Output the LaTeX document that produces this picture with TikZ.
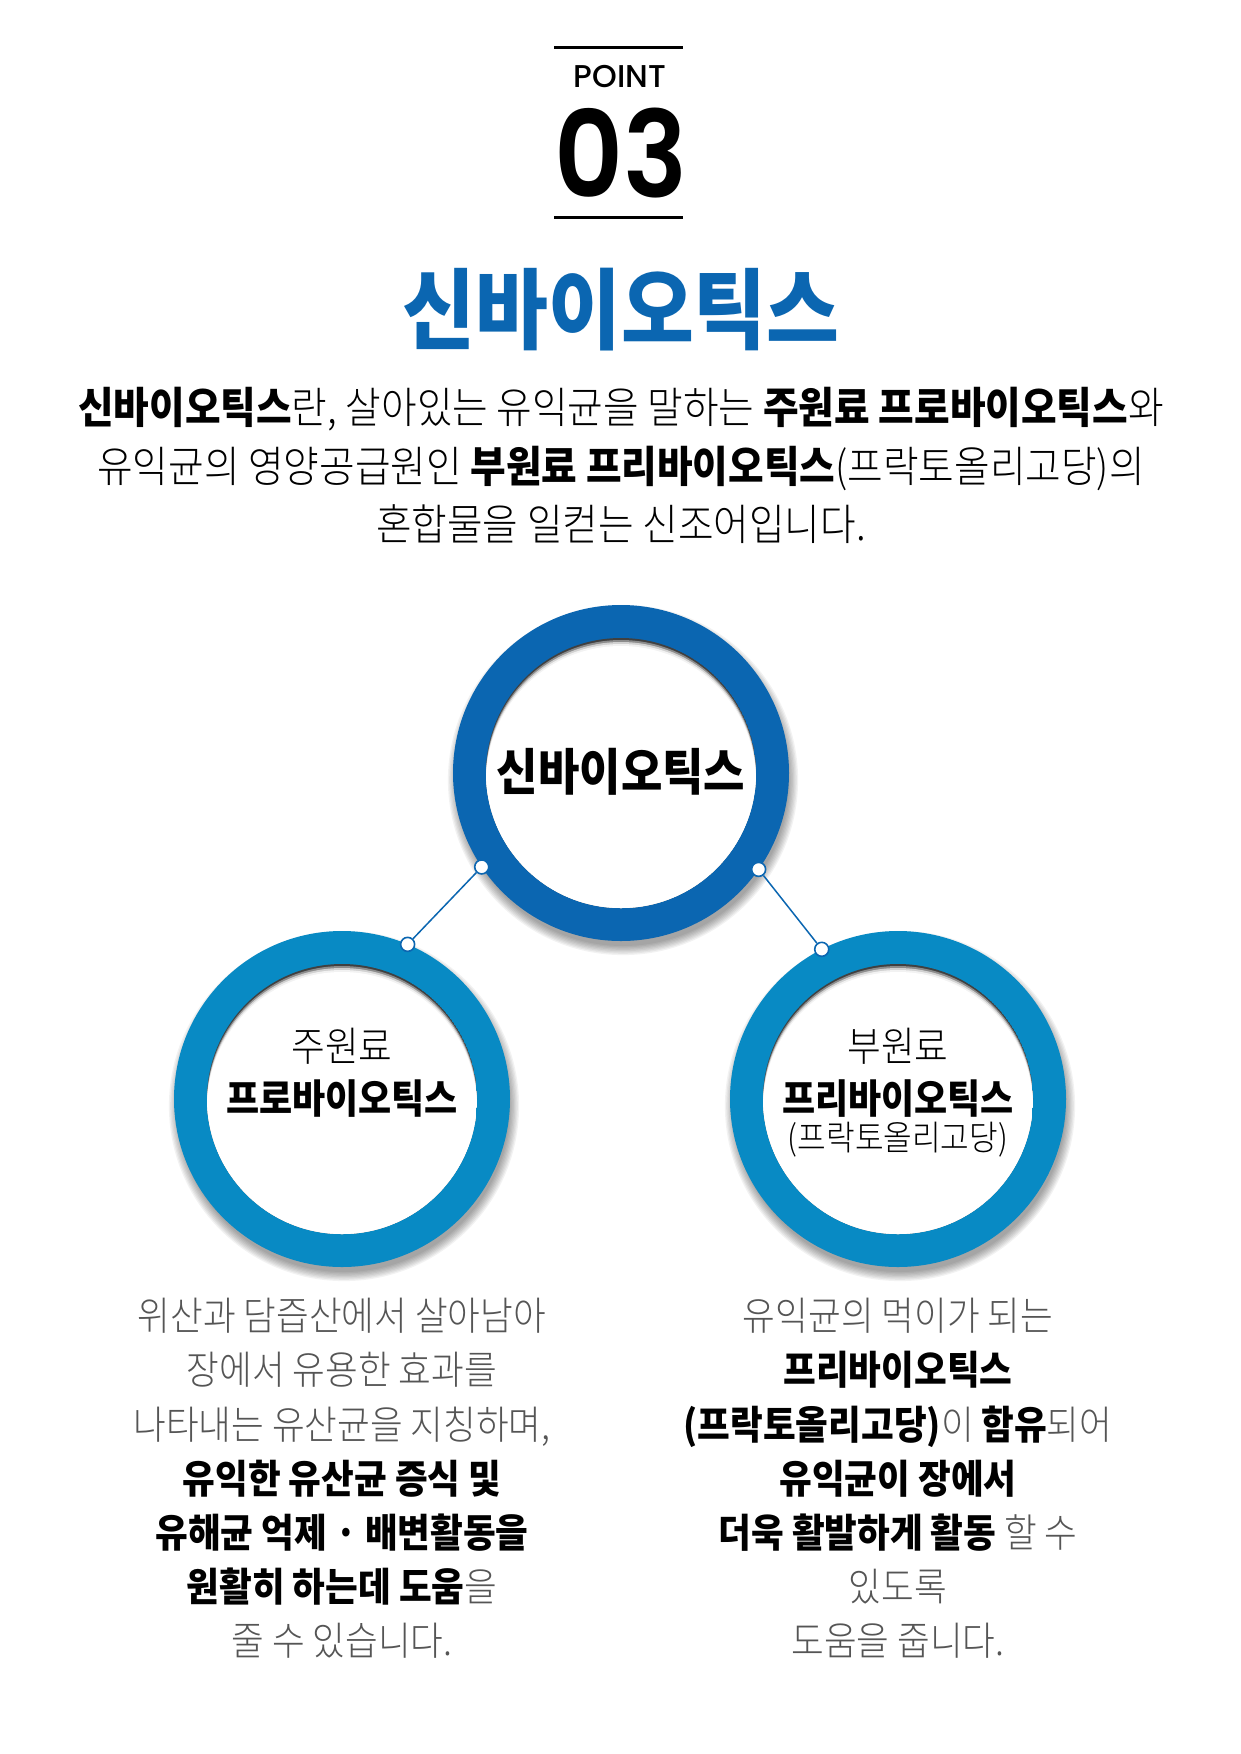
\documentclass[tikz,border=0pt]{standalone}
\usepackage{fontspec}
\newfontfamily\kr{Noto Sans CJK KR}[FakeStretch=0.9]
\IfFontExistsTF{Noto Sans CJK KR Light}
 {\newfontfamily\krl{Noto Sans CJK KR Light}[FakeStretch=0.9]}
 {\newfontfamily\krl{Noto Sans CJK KR}[FakeStretch=0.9]}
\IfFontExistsTF{Poppins Medium}
 {\newfontfamily\pop{Poppins Medium}}
 {\newfontfamily\pop{Poppins}}
\IfFontExistsTF{Poppins SemiBold}
 {\newfontfamily\popn{Poppins SemiBold}[FakeStretch=0.89]}
 {\newfontfamily\popn{Poppins}[FakeStretch=0.89,FakeBold=1.5]}
\definecolor{titleblue}{RGB}{11,102,177}
\definecolor{topblue}{RGB}{11,102,177}
\definecolor{sideblue}{RGB}{8,138,196}
\definecolor{txtgray}{RGB}{85,85,85}
\newcommand\bk[1]{{\kr\bfseries\color{black}#1}}
\newcommand\drawring[3]{%
 \begin{scope}[shift={(#1,#2)}]
  \foreach \k in {0,...,7}{\fill[black,opacity=0.05] (2,7) circle[radius=166pt+\k*1.3pt];}
  \fill[#3] (0,0) circle[radius=168pt];
  \begin{scope}
   \clip (0,0) circle[radius=135pt];
   \fill[black!75] (0,0) circle[radius=135pt];
   \fill[black!45] (0,2) circle[radius=135pt];
   \fill[black!18] (0,4) circle[radius=135pt];
   \fill[black!5] (0,6) circle[radius=135pt];
   \fill[white] (0,8) circle[radius=135pt];
  \end{scope}
 \end{scope}}
\tikzset{
 ringnode/.style={circle, minimum size=336pt, inner sep=0pt, outer sep=0pt},
 dotnode/.style={circle, draw=topblue, fill=white, line width=1.6pt, minimum size=14pt, inner sep=0pt},
 link/.style={topblue, line width=1.5pt},
 para/.style={anchor=base, text=black, font=\krl\fontsize{43pt}{43pt}\selectfont},
 coltext/.style={anchor=base, text=txtgray, font=\krl\fontsize{39.5pt}{39.5pt}\selectfont},
 ringtitle/.style={anchor=base, text=black, font=\kr\bfseries\fontsize{50pt}{50pt}\selectfont},
 ringsub/.style={anchor=base, text=black, font=\krl\fontsize{40.7pt}{40.7pt}\selectfont},
 ringname/.style={anchor=base, text=black, font=\kr\bfseries\fontsize{40pt}{40pt}\selectfont},
 ringparen/.style={anchor=base, text=black, font=\krl\fontsize{34.6pt}{34.6pt}\selectfont},
}
\begin{document}
\begin{tikzpicture}[x=1pt,y=-1pt]
\useasboundingbox[fill=white] (0,0) rectangle (1240,1754);

% header
\draw[line width=3pt] (554,47) -- (683,47);
\draw[line width=3pt] (554,217) -- (683,217);
\node[anchor=base, font=\pop\fontsize{31.5pt}{31.5pt}\selectfont] (point) at (620,87.5) {POINT};
\node[anchor=base, font=\popn\fontsize{120pt}{120pt}\selectfont] (num) at (621,197) {03};

% title
\node[anchor=base, text=titleblue, font=\kr\bfseries\fontsize{88pt}{88pt}\selectfont] (title) at (621,342.6) {신바이오틱스};

% paragraph
\node[para] (p1) at (621,423) {\bk{신바이오틱스}란, 살아있는 유익균을 말하는 \bk{주원료 프로바이오틱스}와};
\node[para] (p2) at (621,482) {유익균의 영양공급원인 \bk{부원료 프리바이오틱스}(프락토올리고당)의};
\node[para] (p3) at (621,540) {혼합물을 일컫는 신조어입니다.};

% rings
\drawring{342}{1099}{sideblue}
\drawring{898}{1099}{sideblue}
\drawring{621}{773}{topblue}
\node[ringnode] (topc) at (621,773) {};
\node[ringnode] (leftc) at (342,1099) {};
\node[ringnode] (rightc) at (898,1099) {};

% connectors
\node[dotnode] (d1) at (topc.214) {};
\node[dotnode] (d2) at (leftc.67) {};
\node[dotnode] (d3) at (topc.-35) {};
\node[dotnode] (d4) at (rightc.117) {};
\draw[link] (d1) -- (d2);
\draw[link] (d3) -- (d4);

% ring texts
\node[ringtitle] (t1) at (621,790.5) {신바이오틱스};
\node[ringsub] (l1) at (342,1061) {주원료};
\node[ringname] (l2) at (342,1113.8) {프로바이오틱스};
\node[ringsub] (r1) at (898,1061) {부원료};
\node[ringname] (r2) at (898,1113.8) {프리바이오틱스};
\node[ringparen] (r3) at (898,1150.8) {(프락토올리고당)};

% left column
\node[coltext] (a1) at (342,1330.6) {위산과 담즙산에서 살아남아};
\node[coltext] (a2) at (342,1384.8) {장에서 유용한 효과를};
\node[coltext] (a3) at (342,1439) {나타내는 유산균을 지칭하며,};
\node[coltext] (a4) at (342,1493.2) {\bk{유익한 유산균 증식 및}};
\node[coltext] (a5) at (342,1547.4) {\bk{유해균 억제 · 배변활동을}};
\node[coltext] (a6) at (342,1601.6) {\bk{원활히 하는데 도움}을};
\node[coltext] (a7) at (342,1655.8) {줄 수 있습니다.};

% right column
\node[coltext] (b1) at (898,1330.6) {유익균의 먹이가 되는};
\node[coltext] (b2) at (898,1384.8) {\bk{프리바이오틱스}};
\node[coltext] (b3) at (898,1439) {\bk{(프락토올리고당)}이 \bk{함유}되어};
\node[coltext] (b4) at (898,1493.2) {\bk{유익균이 장에서}};
\node[coltext] (b5) at (898,1547.4) {\bk{더욱 활발하게 활동} 할 수};
\node[coltext] (b6) at (898,1601.6) {있도록};
\node[coltext] (b7) at (898,1655.8) {도움을 줍니다.};
\end{tikzpicture}
\end{document}
